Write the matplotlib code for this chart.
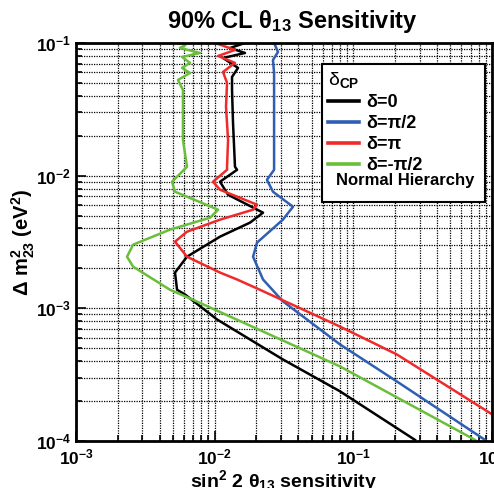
import math
import matplotlib.pyplot as plt
from matplotlib.ticker import LogLocator, FuncFormatter, NullFormatter

plt.rcParams['font.family'] = ['Liberation Sans', 'DejaVu Sans']
plt.rcParams['mathtext.fontset'] = 'custom'
plt.rcParams['mathtext.rm'] = 'Liberation Sans:bold'
plt.rcParams['mathtext.bf'] = 'Liberation Sans:bold'
plt.rcParams['mathtext.it'] = 'Liberation Sans:bold:italic'
plt.rcParams['mathtext.default'] = 'bf'

# sin^2 2theta13 sensitivity (x) vs delta m^2_23 in eV^2 (y)
d0_x = [0.01653, 0.01289, 0.01653, 0.01148, 0.01473, 0.01333, 0.01333, 0.01355, 0.0140,
        0.01449, 0.01092, 0.01248, 0.0223, 0.0180, 0.01092, 0.00631, 0.00517, 0.00535,
        0.00611, 0.0104, 0.0310, 0.0800, 0.278]
d0_y = [0.1, 0.0917, 0.0841, 0.0771, 0.0649, 0.0555, 0.0443, 0.0250, 0.01167,
        0.01107, 0.00900, 0.00718, 0.00526, 0.00443, 0.00347, 0.00245, 0.00186, 0.00138,
        0.00127, 0.000824, 0.000412, 0.000237, 0.000102]

dpi2_x = [0.0272, 0.0286, 0.0263, 0.0268, 0.0268, 0.0268, 0.0238, 0.0263, 0.0367, 0.0310,
          0.0202, 0.0189, 0.0223, 0.0310, 0.0800, 0.206, 0.889]
dpi2_y = [0.0966, 0.0856, 0.0744, 0.0594, 0.0264, 0.01107, 0.00931, 0.00757, 0.00583, 0.00466,
          0.00313, 0.00245, 0.00165, 0.00113, 0.000535, 0.000281, 0.000102]

dpi_x = [0.01057, 0.0140, 0.01057, 0.0140, 0.01148, 0.01227, 0.01206, 0.01248, 0.01227,
         0.01227, 0.00972, 0.01092, 0.0202, 0.0189, 0.01092, 0.00631, 0.00517, 0.00631,
         0.01092, 0.01449, 0.0212, 0.0800, 0.206, 1.0]
dpi_y = [0.0983, 0.0886, 0.0798, 0.0708, 0.0605, 0.0500, 0.0330, 0.0186, 0.01167,
         0.01107, 0.00900, 0.00783, 0.00604, 0.00554, 0.00466, 0.00378, 0.00318, 0.00245,
         0.00186, 0.00165, 0.00138, 0.000729, 0.000449, 0.000159]

dmpi2_x = [0.00611, 0.00562, 0.00783, 0.00581, 0.00663, 0.00581, 0.00663, 0.00543, 0.00590,
           0.00590, 0.00631, 0.00492, 0.00517, 0.01057, 0.00925, 0.00476, 0.00258, 0.00233,
           0.00258, 0.00476, 0.00698, 0.0800, 0.753]
dmpi2_y = [0.0966, 0.0917, 0.0841, 0.0785, 0.0708, 0.0649, 0.0594, 0.0527, 0.0443,
           0.0186, 0.01167, 0.00900, 0.00757, 0.00554, 0.00482, 0.00392, 0.00302, 0.00245,
           0.00206, 0.00138, 0.00116, 0.000365, 0.000102]

fig = plt.figure(figsize=(4.94, 4.88), dpi=100)
ax = fig.add_axes([0.154, 0.0963, 0.842, 0.8156])

ax.plot(d0_x, d0_y, color='black', lw=1.8, label='δ=0')
ax.plot(dpi2_x, dpi2_y, color='#2f5fb3', lw=1.8, label='δ=π/2')
ax.plot(dpi_x, dpi_y, color='#f02a2a', lw=1.8, label='δ=π')
ax.plot(dmpi2_x, dmpi2_y, color='#6abf3a', lw=1.8, label='δ=-π/2')
ax.plot([], [], alpha=0, label=' ')

ax.set_xscale('log')
ax.set_yscale('log')
ax.set_xlim(1e-3, 1)
ax.set_ylim(1e-4, 1e-1)

fmt = FuncFormatter(lambda v, p: r'$\mathbf{10^{%d}}$' % round(math.log10(v)))
for a in (ax.xaxis, ax.yaxis):
    a.set_major_locator(LogLocator(base=10))
    a.set_minor_locator(LogLocator(base=10, subs=range(2, 10)))
    a.set_major_formatter(fmt)
    a.set_minor_formatter(NullFormatter())

ax.grid(True, which='both', color='black', linestyle=(0, (1, 1)), lw=0.9)
ax.tick_params(which='both', direction='in', labelsize=12.5, width=1.2)
ax.tick_params(which='major', length=7)
ax.tick_params(which='minor', length=4)
ax.tick_params(axis='x', pad=5)
for s in ax.spines.values():
    s.set_linewidth(2)

ax.set_title('90% CL θ$_{13}$ Sensitivity', fontsize=17, fontweight='bold', pad=11, x=0.52)
ax.set_xlabel('sin$^2$ 2 θ$_{13}$ sensitivity', fontsize=14, fontweight='bold', labelpad=0)
ax.set_ylabel(r'Δ m$^2_{23}$ (eV$^2$)', fontsize=14.5, fontweight='bold')
ax.yaxis.set_label_coords(-0.095, 0.5)

leg = ax.legend(loc='upper left', bbox_to_anchor=(0.591, 0.623, 0.392, 0.324), mode='expand',
                title='δ$_{CP}$', alignment='left', fancybox=False, edgecolor='black',
                framealpha=1, prop={'weight': 'bold', 'size': 13}, handlelength=1.7,
                handletextpad=0.4, labelspacing=0.22, borderpad=0.35, borderaxespad=0)
leg.get_title().set_fontsize(14)
leg.get_frame().set_linewidth(1.5)
for h in leg.legend_handles:
    h.set_linewidth(2.6)
ax.text(0.625, 0.655, 'Normal Hierarchy', transform=ax.transAxes, fontsize=12,
        fontweight='bold', va='center', zorder=10)

fig.savefig('out.png', dpi=100)
